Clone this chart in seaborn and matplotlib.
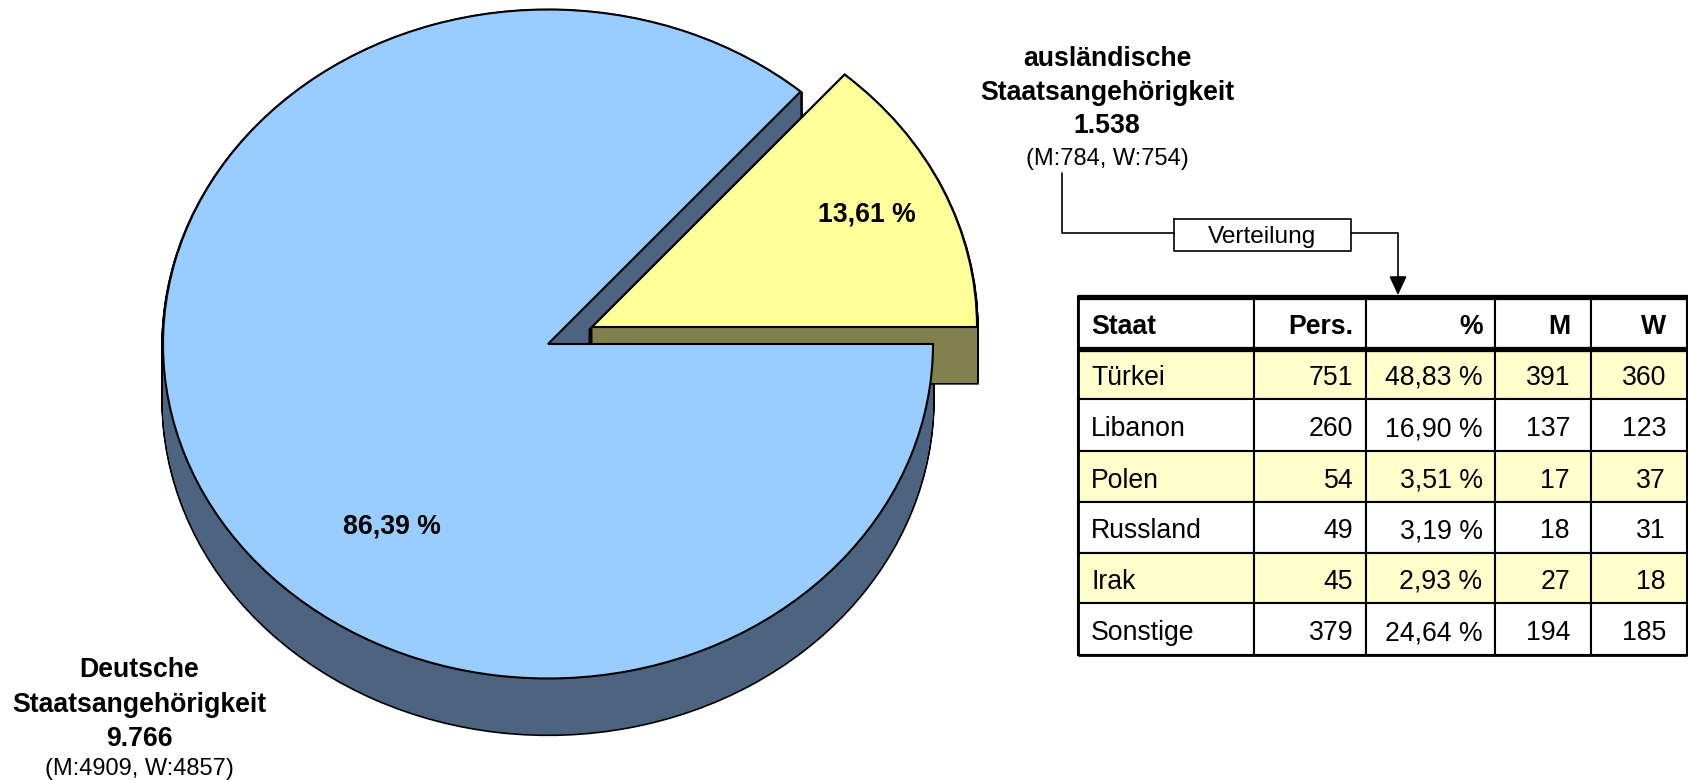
import matplotlib
matplotlib.use('Agg')
import matplotlib.pyplot as plt
import seaborn as sns
from matplotlib.transforms import Bbox

# pie data
pie_shares = [13.61, 86.39]
pie_texts = ['13,61 %', '86,39 %']

# table data
table_head = ['Staat', 'Pers.', '%', 'M', 'W']
staaten = ['Türkei', 'Libanon', 'Polen', 'Russland', 'Irak', 'Sonstige']
personen = [751, 260, 54, 49, 45, 379]
prozent = ['48,83 %', '16,90 %', '3,51 %', '3,19 %', '2,93 %', '24,64 %']
maenner = [391, 137, 17, 18, 27, 194]
frauen = [360, 123, 37, 31, 18, 185]

W, H = 1688, 780
CX, CY, RX, RY = 548.0, 344.0, 385.0, 334.5
DEPTH = 56
BLUE, BLUE_DARK = '#99CCFF', '#4D6480'
YELLOW, YELLOW_DARK = '#FFFF99', '#80804C'
ROW_YELLOW = '#FFFFCC'

sns.set_theme(style='white')
plt.rcParams['font.family'] = ['Liberation Sans', 'DejaVu Sans']
plt.rcParams['text.color'] = 'black'
FS = 19.2
FS_SMALL = 17.0

fig = plt.figure(figsize=(W / 100, H / 100), dpi=100, facecolor='white')
ax_pie = fig.add_axes([0, 0, 1, 1])
ax = fig.add_axes([0, 0, 1, 1], facecolor='none')


def draw_wedge(idx, dx, dy, color, edge, lw):
    # dx, dy in pixels, dy downwards
    wedges, _ = ax_pie.pie(pie_shares, startangle=0, radius=1, colors=[color, color],
                           center=(dx / RX, -dy / RY),
                           wedgeprops={'edgecolor': edge, 'linewidth': lw})
    wedges[1 - idx].set_visible(False)
    wedges[idx].set_clip_on(False)


def draw_wall(idx, dx, dy, color):
    offsets = range(1, DEPTH + 1)
    for d in offsets:
        draw_wedge(idx, dx, dy + d, color, 'black', 2.4)
    for d in offsets:
        draw_wedge(idx, dx, dy + d, color, 'none', 0)


# yellow slice is pulled out of the pie
YDX, YDY = 44, -17
draw_wall(1, 0, 0, BLUE_DARK)
draw_wall(0, YDX, YDY, YELLOW_DARK)
draw_wedge(0, YDX, YDY, YELLOW, 'black', 1.5)
draw_wedge(1, 0, 0, BLUE, 'black', 1.5)
ax_pie.set_aspect('auto')
ax_pie.set_xlim(-CX / RX, (W - CX) / RX)
ax_pie.set_ylim(-(H - CY) / RY, CY / RY)
ax_pie.axis('off')

# overlay in pixel coordinates
ax.set_xlim(0, W)
ax.set_ylim(H, 0)
ax.axis('off')

ax.text(867, 214, pie_texts[0], fontsize=FS, fontweight='bold', ha='center', va='center')
ax.text(392, 527, pie_texts[1], fontsize=FS, fontweight='bold', ha='center', va='center')

for y, s, w in [(59, 'ausländische', 'bold'), (92.5, 'Staatsangehörigkeit', 'bold'),
                (126, '1.538', 'bold'), (159, '(M:784, W:754)', 'normal')]:
    ax.text(1107, y, s, fontsize=FS if w == 'bold' else FS_SMALL, fontweight=w, ha='center', va='center')
for y, s, w in [(670, 'Deutsche', 'bold'), (705, 'Staatsangehörigkeit', 'bold'),
                (739, '9.766', 'bold'), (769, '(M:4909, W:4857)', 'normal')]:
    ax.text(139, y, s, fontsize=FS if w == 'bold' else FS_SMALL, fontweight=w, ha='center', va='center')

# connector from label to table
ax.plot([1062, 1062, 1174], [173, 233, 233], color='black', lw=1.2)
ax.annotate('', xy=(1398, 295), xytext=(1351, 233), arrowprops=dict(
    arrowstyle='-|>,head_length=0.64,head_width=0.3', connectionstyle='angle,angleA=0,angleB=90,rad=0',
    color='black', lw=1.2, shrinkA=0, shrinkB=0, mutation_scale=18))
ax.text(1262.5, 237, 'Verteilung', fontsize=17.6, ha='center', va='center')
ax.plot([1174, 1351, 1351, 1174, 1174], [219, 219, 251, 251, 219], color='black', lw=1.2)

# table
col_x = [1078, 1254, 1366, 1494.5, 1590.5, 1687]
text_x = [1091, 1353.5, 1482.5, 1570, 1666]
row_y = [297, 349, 399, 451, 502, 553, 603, 655]
rows = [[s, str(p), q, str(m), str(f)] for s, p, q, m, f in zip(staaten, personen, prozent, maenner, frauen)]
col_w = [col_x[i + 1] - col_x[i] for i in range(5)]
grid = [table_head] + rows
tbl = ax.table(cellText=[[''] * 5 for _ in grid], colWidths=[c / W for c in col_w],
               bbox=Bbox.from_extents(col_x[0] / W, 1 - row_y[-1] / H, col_x[-1] / W, 1 - row_y[0] / H))
heights = [52, 50, 52, 51, 51, 50, 52]
for (r, c), cell in tbl.get_celld().items():
    cell.set_height(heights[r] / H)
    cell.set_linewidth(1.5)
    cell.set_edgecolor('black')
    cell.set_facecolor(ROW_YELLOW if r in (1, 3, 5) else 'white')
    ymid = (row_y[r] + row_y[r + 1]) / 2 + 4
    ax.text(text_x[c], ymid, grid[r][c], fontsize=FS, fontweight='bold' if r == 0 else 'normal',
            ha='left' if c == 0 else 'right', va='center', zorder=5)

ax.hlines([row_y[0], row_y[1]], col_x[0] - 1, col_x[-1] + 1, color='black', lw=3.8, zorder=4)
ax.vlines([col_x[0], col_x[-1]], row_y[0], row_y[-1], color='black', lw=2.0, zorder=4)
ax.hlines(row_y[-1], col_x[0], col_x[-1], color='black', lw=2.0, zorder=4)

fig.savefig('out.png', dpi=100)
